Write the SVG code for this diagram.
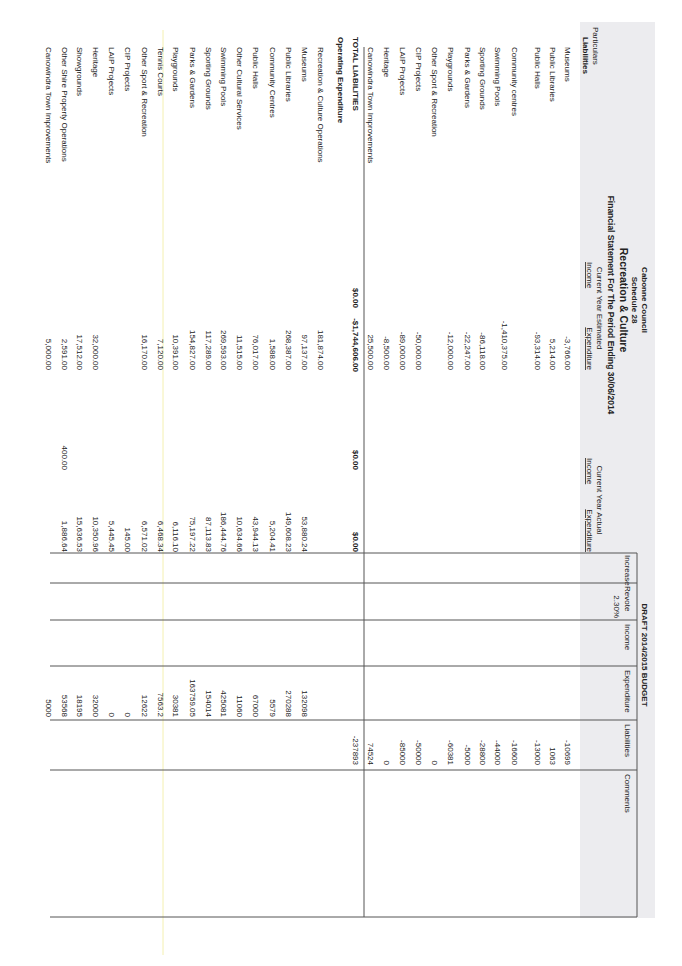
<svg xmlns="http://www.w3.org/2000/svg" width="682" height="966" viewBox="0 0 682 966">
<style>
text{font-family:"Liberation Sans",Arial,sans-serif;font-size:8px;fill:#222}
.b{font-weight:bold}
.r{text-anchor:end}
.c{text-anchor:middle}
.u{text-decoration:underline}
.ln{stroke:#555;stroke-width:1;fill:none}
</style>
<rect width="682" height="966" fill="#fff"/>
<line x1="163" y1="30" x2="163" y2="955" stroke="#f4f0b0" stroke-width="1"/>
<g transform="translate(682,0) rotate(90)">
<rect x="22" y="27" width="896" height="75" fill="#ececef"/>
<g id="header">
<text x="300" y="40" class="b c">Cabonne Council</text>
<text x="300" y="50" class="b c">Schedule 28</text>
<text x="300" y="62" class="b c" style="font-size:10.5px">Recreation &amp; Culture</text>
<text x="305" y="74" class="b c" style="font-size:8.5px">Financial Statement For The Period Ending 30/06/2014</text>
<text x="308" y="85" class="c">Current Year Estimated</text>
<text x="262" y="95" class="u">Income</text>
<text x="370" y="95" class="r u">Expenditure</text>
<text x="500" y="85" class="c">Current Year Actual</text>
<text x="458" y="95" class="u">Income</text>
<text x="552" y="95" class="r u">Expenditure</text>
<text x="655" y="40" class="b c">DRAFT 2014/2015 BUDGET</text>
<text x="555" y="57">Increase</text>
<text x="586" y="57">Revote</text>
<text x="624" y="57">Income</text>
<text x="670" y="57">Expenditure</text>
<text x="724" y="57">Liabilities</text>
<text x="774" y="57">Comments</text>
<text x="618" y="68" class="r">2.30%</text>
<text x="27" y="89">Particulars</text>
<text x="37" y="99" class="b">Liabilities</text>
</g>
<g id="connectors">
<line class="ln" x1="553" y1="45" x2="917" y2="45"/>
<line class="ln" x1="553" y1="45" x2="553" y2="632"/>
<line class="ln" x1="583" y1="45" x2="583" y2="632"/>
<line class="ln" x1="620" y1="45" x2="620" y2="632"/>
<line class="ln" x1="666" y1="45" x2="666" y2="632"/>
<line class="ln" x1="720" y1="45" x2="720" y2="632"/>
<line class="ln" x1="770" y1="45" x2="770" y2="632"/>
<line class="ln" x1="917" y1="45" x2="917" y2="632"/>
<line class="ln" x1="47" y1="318" x2="917" y2="318"/>
</g>
<g id="liabilities">
<text x="47" y="117">Museums</text><text x="370" y="117" class="r">-3,766.00</text><text x="765" y="117" class="r">-10699</text>
<text x="47" y="132">Public Libraries</text><text x="370" y="132" class="r">5,214.00</text><text x="765" y="132" class="r">1063</text>
<text x="47" y="147">Public Halls</text><text x="370" y="147" class="r">-93,314.00</text><text x="765" y="147" class="r">-13000</text>
<text x="47" y="170">Community centres</text><text x="765" y="170" class="r">-16600</text>
<text x="370" y="180" class="r">-1,410,375.00</text>
<text x="47" y="187">Swimming Pools</text><text x="765" y="187" class="r">-44000</text>
<text x="47" y="202">Sporting Grounds</text><text x="370" y="202" class="r">-86,118.00</text><text x="765" y="202" class="r">-28800</text>
<text x="47" y="217">Parks &amp; Gardens</text><text x="370" y="217" class="r">-22,247.00</text><text x="765" y="217" class="r">-5000</text>
<text x="47" y="234">Playgrounds</text><text x="370" y="234" class="r">-12,000.00</text><text x="765" y="234" class="r">-60381</text>
<text x="47" y="250">Other Sport &amp; Recreation</text><text x="765" y="250" class="r">0</text>
<text x="47" y="266">CIP Projects</text><text x="370" y="266" class="r">-50,000.00</text><text x="765" y="266" class="r">-50000</text>
<text x="47" y="282">LAIP Projects</text><text x="370" y="282" class="r">-89,000.00</text><text x="765" y="282" class="r">-85000</text>
<text x="47" y="298">Heritage</text><text x="370" y="298" class="r">-8,500.00</text><text x="765" y="298" class="r">0</text>
<text x="47" y="314">Canowindra Town Improvements</text><text x="370" y="314" class="r">25,500.00</text><text x="765" y="314" class="r">74524</text>
</g>
<g id="total">
<text x="37" y="329" class="b">TOTAL LIABILITIES</text>
<text x="308" y="329" class="r b">$0.00</text><text x="372" y="329" class="r b">-$1,744,606.00</text>
<text x="470" y="329" class="r b">$0.00</text><text x="552" y="329" class="r b">$0.00</text>
<text x="765" y="329" class="r">-237893</text>
</g>
<g id="operating">
<text x="37" y="344" class="b">Operating Expenditure</text>
<text x="47" y="364">Recreation &amp; Culture  Operations</text><text x="370" y="364" class="r">181,874.00</text>
<text x="47" y="380">Museums</text><text x="370" y="380" class="r">97,137.00</text><text x="552" y="380" class="r">53,880.24</text><text x="717" y="380" class="r">132098</text>
<text x="47" y="396">Public Libraries</text><text x="370" y="396" class="r">268,387.00</text><text x="552" y="396" class="r">149,608.23</text><text x="717" y="396" class="r">270288</text>
<text x="47" y="412">Community Centres</text><text x="370" y="412" class="r">1,588.00</text><text x="552" y="412" class="r">5,204.41</text><text x="717" y="412" class="r">5579</text>
<text x="47" y="429">Public Halls</text><text x="370" y="429" class="r">76,017.00</text><text x="552" y="429" class="r">43,944.13</text><text x="717" y="429" class="r">67000</text>
<text x="47" y="445">Other Cultural Services</text><text x="370" y="445" class="r">11,515.00</text><text x="552" y="445" class="r">10,634.66</text><text x="717" y="445" class="r">11060</text>
<text x="47" y="461">Swimming Pools</text><text x="370" y="461" class="r">269,593.00</text><text x="552" y="461" class="r">186,444.76</text><text x="717" y="461" class="r">425081</text>
<text x="47" y="476">Sporting Grounds</text><text x="370" y="476" class="r">117,289.00</text><text x="552" y="476" class="r">87,113.83</text><text x="717" y="476" class="r">154014</text>
<text x="47" y="492">Parks &amp; Gardens</text><text x="370" y="492" class="r">154,827.00</text><text x="552" y="492" class="r">75,197.22</text><text x="717" y="492" class="r">163759.05</text>
<text x="47" y="509">Playgrounds</text><text x="370" y="509" class="r">10,391.00</text><text x="552" y="509" class="r">6,116.10</text><text x="717" y="509" class="r">30381</text>
<text x="47" y="524">Tennis Courts</text><text x="370" y="524" class="r">7,120.00</text><text x="552" y="524" class="r">6,468.34</text><text x="717" y="524" class="r">7563.2</text>
<text x="47" y="540">Other Sport &amp; Recreation</text><text x="370" y="540" class="r">16,170.00</text><text x="552" y="540" class="r">6,571.02</text><text x="717" y="540" class="r">12622</text>
<text x="47" y="557">CIP Projects</text><text x="552" y="557" class="r">145.00</text><text x="717" y="557" class="r">0</text>
<text x="47" y="573">LAIP Projects</text><text x="552" y="573" class="r">5,445.45</text><text x="717" y="573" class="r">0</text>
<text x="47" y="589">Heritage</text><text x="370" y="589" class="r">32,000.00</text><text x="552" y="589" class="r">10,350.96</text><text x="717" y="589" class="r">32000</text>
<text x="47" y="605">Showgrounds</text><text x="370" y="605" class="r">17,512.00</text><text x="552" y="605" class="r">15,636.53</text><text x="717" y="605" class="r">18195</text>
<text x="47" y="620">Other Shire Property Operations</text><text x="370" y="620" class="r">2,591.00</text><text x="470" y="620" class="r">400.00</text><text x="552" y="620" class="r">1,886.64</text><text x="717" y="620" class="r">53568</text>
<text x="47" y="636">Canowindra Town Improvements</text><text x="370" y="636" class="r">5,000.00</text><text x="717" y="636" class="r">5000</text>
</g>
</g>
</svg>
